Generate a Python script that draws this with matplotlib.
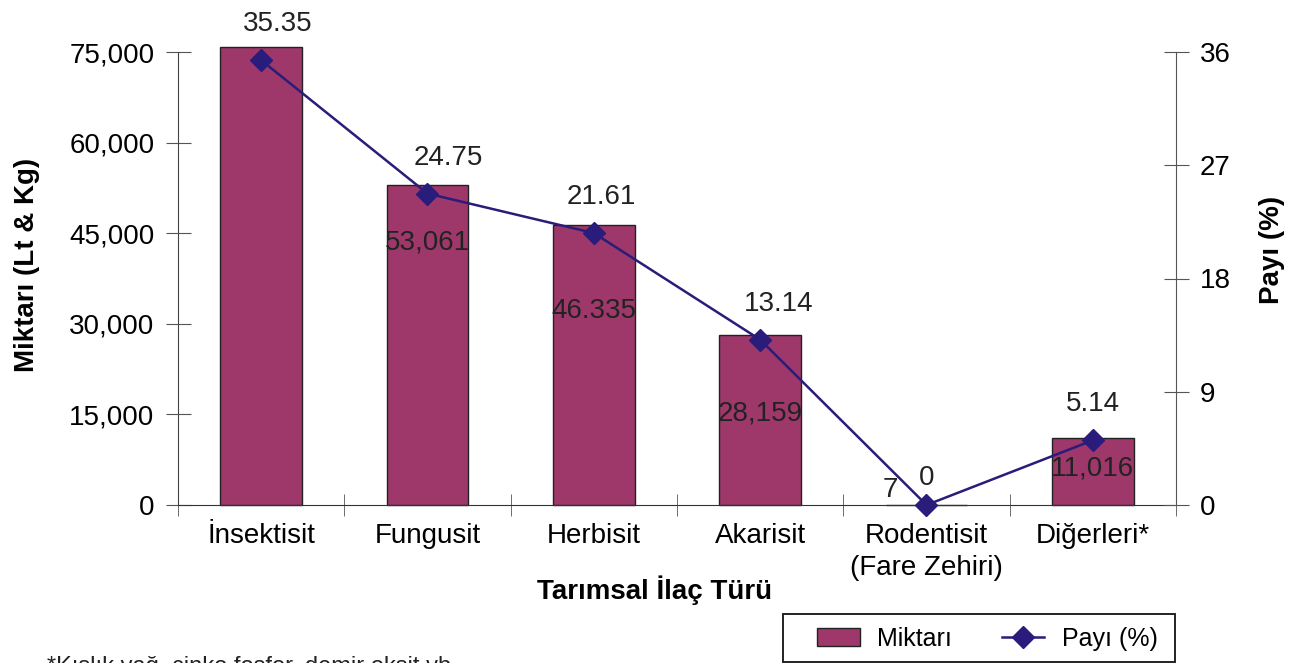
import matplotlib
matplotlib.use('Agg')
import numpy as np
import matplotlib.pyplot as plt
from matplotlib.patches import Patch, Rectangle
from matplotlib.lines import Line2D

###Data###
categories = ['İnsektisit', 'Fungusit', 'Herbisit', 'Akarisit', 'Rodentisit\n(Fare Zehiri)', 'Diğerleri*']
amounts = [75786, 53061, 46335, 28159, 7, 11016]
amount_labels = ['', '53,061', '46.335', '28,159', '7', '11,016']
shares = [35.35, 24.75, 21.61, 13.14, 0, 5.14]
share_labels = ['35.35', '24.75', '21.61', '13.14', '0', '5.14']
left_ticks = [0, 15000, 30000, 45000, 60000, 75000]
right_ticks = [0, 9, 18, 27, 36]

###Layout of the labels (data units / px offsets)###
amount_label_y = [0, 43400, 32100, 15200, 2500, 6100]
amount_label_dx = [0, 0, 0, 0, -0.22, 0]
share_label_dx = [17, 21, 7, 19, 0, 0]
share_label_dy = [36, 36, 36, 36, 27, 36]

bar_color = '#9E386A'
line_color = '#291C7A'

plt.rcParams['font.family'] = ['Liberation Sans', 'DejaVu Sans']

fig = plt.figure(figsize=(12.96, 6.63), dpi=100)
ax = fig.add_axes([178/1296, 1-505/663, 998/1296, 453/663])
ax2 = ax.twinx()

x = np.arange(len(categories))
ax.bar(x, amounts, width=0.49, color=bar_color, edgecolor='#222222', linewidth=1, clip_on=False, zorder=2)
for i, lab in enumerate(amount_labels):
	if lab:
		ax.text(x[i]+amount_label_dx[i], amount_label_y[i], lab, ha='center', va='center', fontsize=20, color='#222222', zorder=3)

ax.set_xlim(-0.5, len(categories)-0.5)
ax.set_ylim(0, 75000)
ax.set_yticks(left_ticks)
ax.set_yticklabels(['{:,}'.format(v) for v in left_ticks], fontsize=20)
ax.set_xticks(x)
ax.set_xticklabels(categories, fontsize=20, linespacing=1.3)
ax.set_xticks(np.arange(-0.5, len(categories)), minor=True)
ax.tick_params(axis='x', which='major', length=0, pad=13)
ax.tick_params(axis='x', which='minor', length=16, direction='inout', color='#555555')
ax.tick_params(axis='y', length=18, direction='inout', color='#555555', pad=8)
ax.set_ylabel('Miktarı (Lt & Kg)', fontsize=20, fontweight='bold')
ax.yaxis.set_label_coords(-0.138, 0.53)
ax.set_xlabel('Tarımsal İlaç Türü', fontsize=20, fontweight='bold')
ax.xaxis.set_label_coords(0.478, -0.155)
ax.spines['top'].set_visible(False)
ax.spines['right'].set_visible(False)
ax.spines['left'].set_color('#444444')
ax.spines['bottom'].set_color('#333333')

ax2.plot(x, shares, color=line_color, linewidth=1.8, marker='D', markersize=11, clip_on=False, zorder=4)
for i, lab in enumerate(share_labels):
	ax2.annotate(lab, (x[i], shares[i]), xytext=(share_label_dx[i]*0.72, share_label_dy[i]*0.72), textcoords='offset points',
		ha='center', va='center', fontsize=20, color='#222222')
ax2.set_ylim(0, 36)
ax2.set_yticks(right_ticks)
ax2.set_yticklabels([str(v) for v in right_ticks], fontsize=20)
ax2.tick_params(axis='y', length=18, direction='inout', color='#555555', pad=8)
ax2.set_ylabel('Payı (%)', fontsize=20, fontweight='bold')
ax2.yaxis.set_label_coords(1.083, 0.563)
ax2.spines['top'].set_visible(False)
ax2.spines['left'].set_visible(False)
ax2.spines['bottom'].set_visible(False)
ax2.spines['right'].set_color('#555555')
ax.set_zorder(1)
ax2.set_zorder(2)
ax.patch.set_visible(False)

# legend without frame, box drawn separately
handles = [Patch(facecolor=bar_color, edgecolor='#222222', label='Miktarı'),
	Line2D([0], [0], color=line_color, marker='D', markersize=11, linewidth=1.8, label='Payı (%)')]
leg = fig.legend(handles=handles, loc='lower right', bbox_to_anchor=(1169/1296, 1/663), ncol=2, fontsize=18,
	frameon=False, handlelength=1.7, handletextpad=0.7,
	columnspacing=2.0, borderpad=0.45, borderaxespad=0)
fig.patches.append(Rectangle((783/1296, 1-662/663), (1175-783)/1296, 48/663, transform=fig.transFigure,
	fill=False, edgecolor='#222222', linewidth=1.4))

fig.text(47/1296, 1-655.5/663, '*Kışlık yağ, çinko fosfor, demir oksit vb.', fontsize=17, va='top', ha='left', color='#222222')

plt.savefig('out.png', dpi=100)
